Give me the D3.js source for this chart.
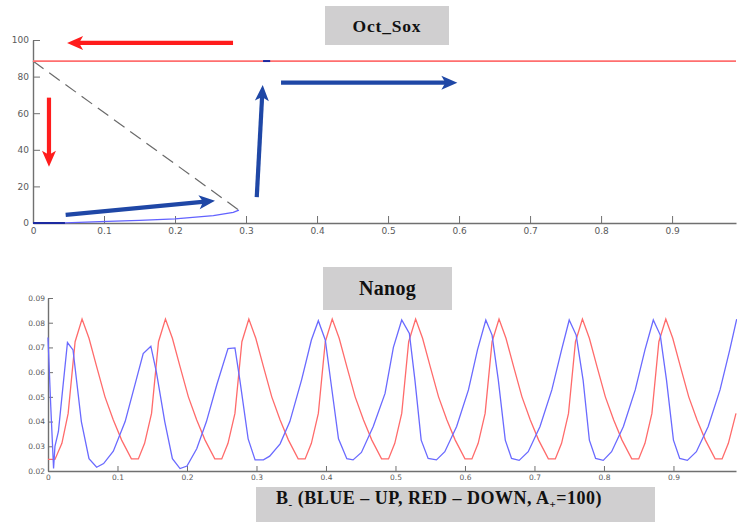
<!DOCTYPE html>
<meta charset="utf-8">
<html>
  <head>
    <script src="https://d3js.org/d3.v7.min.js" type="text/javascript"></script>
    <style>
      body { margin: 0; background: #fff; }
      .tick text { fill: #5a5a5a; font-family: "DejaVu Sans", sans-serif; }
      .domain, .tick line { stroke: #707070; }
    </style>
  </head>
  <body>
    <div id="chart"></div>
    <script type="text/javascript">

      // --- Oct_Sox panel (top) ---
      var octTicksX = [0, 0.1, 0.2, 0.3, 0.4, 0.5, 0.6, 0.7, 0.8, 0.9];
      var octTicksY = [0, 20, 40, 60, 80, 100];
      var octRed = [[0, 88.5], [0.99, 88.5]];
      var octBlueFlat = [[0, 0], [0.045, 0]];
      var octBlue = [[0.045, 0.1], [0.094, 0.7], [0.15, 1.4], [0.2, 2.3], [0.254, 4], [0.282, 5.8], [0.29, 7]];
      var octBlueJump = [[0.324, 88.5], [0.334, 88.5]];
      var octDashed = [[0, 88.5], [0.29, 7]];

      // arrows: [x1, y1, x2, y2, colour] in data units of the top panel
      var octArrows = [
        [0.2817, 98.4, 0.048, 98.4, "red"],
        [0.0225, 68.5, 0.0225, 30.8, "red"],
        [0.046, 4.4, 0.2563, 12.2, "blue"],
        [0.3151, 14.1, 0.3235, 75.4, "blue"],
        [0.3493, 76.7, 0.5976, 76.7, "blue"]
      ];

      // --- Nanog panel (bottom) ---
      var nanogTicksX = [0, 0.1, 0.2, 0.3, 0.4, 0.5, 0.6, 0.7, 0.8, 0.9];
      var nanogTicksY = [0.02, 0.03, 0.04, 0.05, 0.06, 0.07, 0.08, 0.09];

      var nanogRed = [
        [0, .0247], [0.010, .0247], [0.020, .0312], [0.029, .0433], [0.039, .0723], [0.049, .0815], [0.059, .0737],
        [0.070, .0622], [0.082, .050], [0.094, .0406], [0.106, .0325], [0.120, .0249], [0.130, .0249],
        [0.139, .0312], [0.149, .0433], [0.159, .0723], [0.169, .0815], [0.179, .0737], [0.190, .0622],
        [0.202, .050], [0.214, .0406], [0.226, .0325], [0.240, .0249], [0.250, .0249],
        [0.259, .0312], [0.269, .0433], [0.279, .0723], [0.289, .0815], [0.299, .0737], [0.310, .0622],
        [0.322, .050], [0.334, .0406], [0.346, .0325], [0.360, .0249], [0.370, .0249],
        [0.379, .0312], [0.389, .0433], [0.399, .0723], [0.409, .0815], [0.419, .0737], [0.430, .0622],
        [0.442, .050], [0.454, .0406], [0.466, .0325], [0.480, .0249], [0.490, .0249],
        [0.499, .0312], [0.509, .0433], [0.519, .0723], [0.529, .0815], [0.539, .0737], [0.550, .0622],
        [0.562, .050], [0.574, .0406], [0.586, .0325], [0.600, .0249], [0.610, .0249],
        [0.619, .0312], [0.629, .0433], [0.639, .0723], [0.649, .0815], [0.659, .0737], [0.670, .0622],
        [0.682, .050], [0.694, .0406], [0.706, .0325], [0.720, .0249], [0.730, .0249],
        [0.739, .0312], [0.749, .0433], [0.759, .0723], [0.769, .0815], [0.779, .0737], [0.790, .0622],
        [0.802, .050], [0.814, .0406], [0.826, .0325], [0.840, .0249], [0.850, .0249],
        [0.859, .0312], [0.869, .0433], [0.879, .0723], [0.889, .0815], [0.899, .0737], [0.910, .0622],
        [0.922, .050], [0.934, .0406], [0.946, .0325], [0.960, .0249], [0.970, .0249],
        [0.979, .0312], [0.990, .0433]
      ];

      var nanogBlue = [
        [0, .074], [0.004, .046], [0.008, .021], [0.010, .030], [0.015, .036], [0.020, .050], [0.028, .072],
        [0.036, .069], [0.048, .040], [0.059, .025], [0.070, .0215], [0.080, .023], [0.094, .028],
        [0.111, .040], [0.128, .058], [0.137, .0675], [0.148, .0705], [0.156, .060], [0.168, .040],
        [0.179, .025], [0.190, .021], [0.200, .022], [0.214, .029], [0.228, .040], [0.243, .055],
        [0.259, .0695], [0.269, .0698], [0.276, .057], [0.288, .033], [0.298, .0245], [0.310, .0245],
        [0.319, .026], [0.334, .031], [0.348, .040], [0.365, .057], [0.379, .073], [0.389, .0808],
        [0.399, .073], [0.408, .054], [0.418, .033], [0.430, .025], [0.439, .0245], [0.451, .0275],
        [0.468, .038], [0.485, .0514], [0.497, .070], [0.509, .0811], [0.520, .0757], [0.528, .0568],
        [0.537, .0325], [0.547, .0251], [0.559, .0245], [0.571, .0278], [0.588, .038], [0.605, .0528],
        [0.618, .069], [0.630, .0811], [0.639, .075], [0.648, .0568], [0.658, .0325], [0.667, .0251],
        [0.678, .0243], [0.691, .0278], [0.708, .038], [0.725, .0528], [0.739, .069], [0.750, .0811],
        [0.760, .075], [0.770, .0568], [0.779, .0325], [0.788, .0251], [0.799, .0243], [0.811, .0278],
        [0.828, .038], [0.845, .0528], [0.859, .069], [0.871, .0811], [0.881, .075], [0.890, .0568],
        [0.900, .0325], [0.909, .0251], [0.920, .0243], [0.933, .0278], [0.950, .038], [0.967, .0528],
        [0.981, .069], [0.991, .0814]
      ];

      var width = 737, height = 522;

      var svg = d3.select("#chart").append("svg")
          .attr("width", width)
          .attr("height", height);

      var fmt = function(d) { return d === 0 ? "0" : String(d); };

      // ---top panel---
      var xTop = d3.scaleLinear().domain([0, 0.99]).range([33, 736]);
      var yTop = d3.scaleLinear().domain([0, 100]).range([223, 40]);

      var topG = svg.append("g");

      topG.append("g")
          .attr("transform", "translate(0," + yTop(0) + ")")
          .call(d3.axisBottom(xTop).tickValues(octTicksX).tickFormat(fmt).tickSizeInner(-7).tickSizeOuter(0).tickPadding(5))
          .call(function(g) { g.selectAll("text").attr("font-size", 9); });

      topG.append("g")
          .attr("transform", "translate(" + xTop(0) + ",0)")
          .call(d3.axisLeft(yTop).tickValues(octTicksY).tickFormat(fmt).tickSizeInner(-7).tickSizeOuter(0).tickPadding(4))
          .call(function(g) { g.selectAll("text").attr("font-size", 9); });

      topG.selectAll(".domain").attr("stroke-width", 1.4);

      var lineTop = d3.line().x(function(d) { return xTop(d[0]); }).y(function(d) { return yTop(d[1]); });

      topG.append("path").attr("d", lineTop(octDashed))
          .attr("fill", "none").attr("stroke", "#6a6a6a").attr("stroke-width", 1.2).attr("stroke-dasharray", "13,7");
      topG.append("path").attr("d", lineTop(octRed))
          .attr("fill", "none").attr("stroke", "#ff6f6f").attr("stroke-width", 1.8);
      topG.append("path").attr("d", lineTop(octBlue))
          .attr("fill", "none").attr("stroke", "#6262ff").attr("stroke-width", 1.3);
      topG.append("path").attr("d", lineTop(octBlueFlat))
          .attr("fill", "none").attr("stroke", "#1c2aa0").attr("stroke-width", 2);
      topG.append("path").attr("d", lineTop(octBlueJump))
          .attr("fill", "none").attr("stroke", "#1c2aa0").attr("stroke-width", 2);

      // arrows with notched heads
      var arrowColor = { red: "#ff1c1c", blue: "#1f47a6" };
      octArrows.forEach(function(a) {
        var x1 = xTop(a[0]), y1 = yTop(a[1]), x2 = xTop(a[2]), y2 = yTop(a[3]);
        var ang = Math.atan2(y2 - y1, x2 - x1) * 180 / Math.PI;
        var len = Math.sqrt((x2 - x1) * (x2 - x1) + (y2 - y1) * (y2 - y1));
        var g = topG.append("g").attr("transform", "translate(" + x1 + "," + y1 + ") rotate(" + ang + ")");
        g.append("line").attr("x1", 0).attr("y1", 0).attr("x2", len - 10).attr("y2", 0)
            .attr("stroke", arrowColor[a[4]]).attr("stroke-width", 4.2);
        g.append("path")
            .attr("d", "M" + len + ",0 L" + (len - 16) + ",-7 L" + (len - 12) + ",0 L" + (len - 16) + ",7 Z")
            .attr("fill", arrowColor[a[4]]);
      });

      // ---bottom panel---
      var xBot = d3.scaleLinear().domain([0, 0.99]).range([48, 736]);
      var yBot = d3.scaleLinear().domain([0.02, 0.09]).range([471, 298]);

      var botG = svg.append("g");

      botG.append("g")
          .attr("transform", "translate(0," + yBot(0.02) + ")")
          .call(d3.axisBottom(xBot).tickValues(nanogTicksX).tickFormat(fmt).tickSizeInner(-5).tickSizeOuter(0).tickPadding(4))
          .call(function(g) { g.selectAll("text").attr("font-size", 7.5); });

      botG.append("g")
          .attr("transform", "translate(" + xBot(0) + ",0)")
          .call(d3.axisLeft(yBot).tickValues(nanogTicksY).tickFormat(d3.format(".2f")).tickSizeInner(-5).tickSizeOuter(0).tickPadding(3))
          .call(function(g) { g.selectAll("text").attr("font-size", 7.5); });

      botG.selectAll(".domain").attr("stroke-width", 1.4);

      var lineBot = d3.line().x(function(d) { return xBot(d[0]); }).y(function(d) { return yBot(d[1]); });

      botG.append("path").attr("d", lineBot(nanogRed))
          .attr("fill", "none").attr("stroke", "#ff6b6b").attr("stroke-width", 1.3);
      botG.append("path").attr("d", lineBot(nanogBlue))
          .attr("fill", "none").attr("stroke", "#6a6aff").attr("stroke-width", 1.3);

      // ---grey label boxes---
      var boxes = [
        { x: 325, y: 6, w: 124, h: 39, text: "Oct_Sox", size: 17.5, ls: 0.8, tx: 387, ty: 31.5 },
        { x: 323, y: 267, w: 129, h: 43, text: "Nanog", size: 20, ls: 0.3, tx: 387.5, ty: 295 }
      ];
      boxes.forEach(function(b) {
        svg.append("rect").attr("x", b.x).attr("y", b.y).attr("width", b.w).attr("height", b.h).attr("fill", "#d0cfd0");
        svg.append("text").attr("x", b.tx).attr("y", b.ty).attr("text-anchor", "middle")
            .attr("font-family", "Liberation Serif, serif").attr("font-weight", "bold").attr("font-size", b.size)
            .attr("letter-spacing", b.ls).attr("fill", "#111").text(b.text);
      });

      svg.append("rect").attr("x", 256).attr("y", 487).attr("width", 399).attr("height", 40).attr("fill", "#d0cfd0");
      var cap = svg.append("text").attr("x", 276).attr("y", 504)
          .attr("font-family", "Liberation Serif, serif").attr("font-weight", "bold").attr("font-size", 18)
          .attr("letter-spacing", 0.5).attr("fill", "#111");
      cap.append("tspan").text("B");
      cap.append("tspan").attr("dy", 4).attr("font-size", 11).text("-");
      cap.append("tspan").attr("dy", -4).text(" (BLUE \u2013 UP, RED \u2013 DOWN, A");
      cap.append("tspan").attr("dy", 4).attr("font-size", 11).text("+");
      cap.append("tspan").attr("dy", -4).text("=100)");
    </script>
  </body>
</html>
